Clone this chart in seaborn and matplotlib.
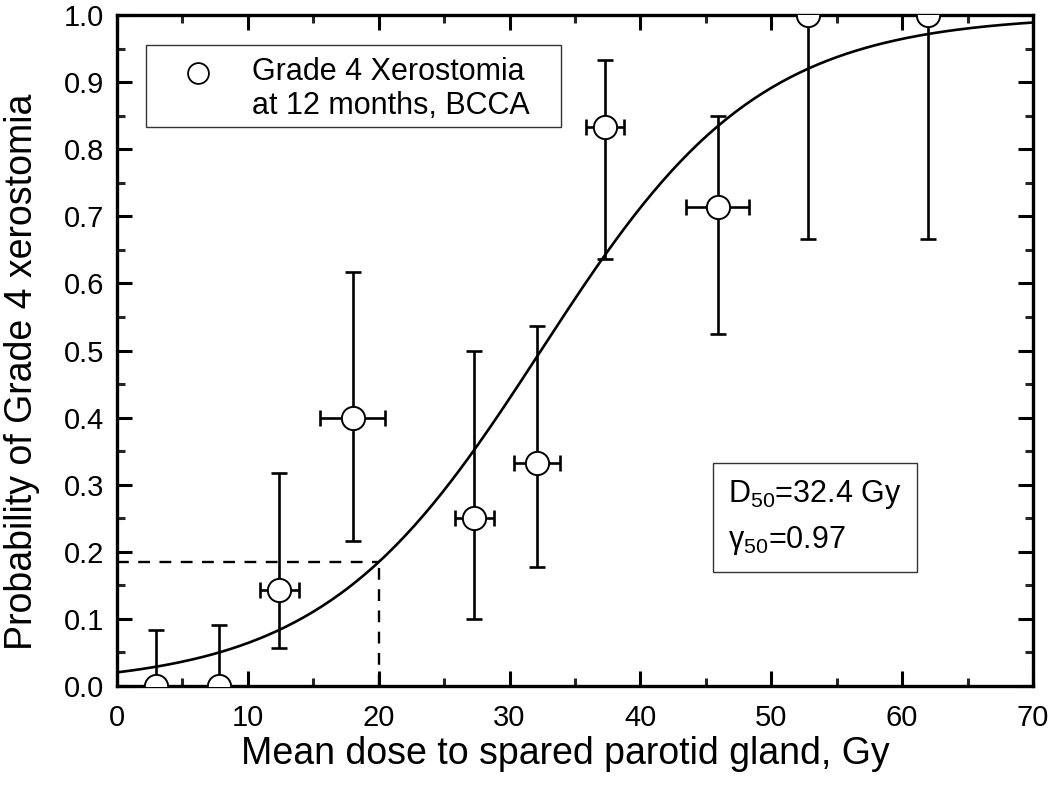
import numpy as np
import pandas as pd
import matplotlib
matplotlib.use("Agg")
import matplotlib.pyplot as plt
from matplotlib.patches import Rectangle
from matplotlib.ticker import MultipleLocator, FormatStrFormatter
import seaborn as sns

dose = [3.0, 7.8, 12.4, 18.0, 27.3, 32.1, 37.3, 45.9, 52.8, 62.0]
dose_err = [0.0, 0.0, 1.5, 2.5, 1.5, 1.75, 1.45, 2.4, 0.0, 0.0]
prob = [0.0, 0.0, 0.143, 0.40, 0.25, 0.333, 0.833, 0.714, 1.0, 1.0]
prob_lo = [0.0, 0.0, 0.057, 0.216, 0.10, 0.178, 0.637, 0.525, 0.667, 0.667]
prob_hi = [0.083, 0.091, 0.318, 0.617, 0.50, 0.537, 0.933, 0.85, 1.0, 1.0]

# fitted logistic model (parameters printed on the chart)
D50 = 32.4
gamma50 = 0.97
ref_dose = 20.0

df = pd.DataFrame({"dose": dose, "prob": prob})
fit = pd.DataFrame({"dose": np.linspace(0, 70, 300)})
fit["prob"] = 1.0 / (1.0 + np.exp(4 * gamma50 * (1 - fit["dose"] / D50)))
ref_prob = 1.0 / (1.0 + np.exp(4 * gamma50 * (1 - ref_dose / D50)))

sns.set_theme(style="ticks")
plt.rcParams["font.family"] = ["Liberation Sans", "DejaVu Sans"]
plt.rcParams["mathtext.fontset"] = "custom"
plt.rcParams["mathtext.rm"] = "Liberation Sans"
plt.rcParams["text.color"] = "black"
plt.rcParams["axes.labelcolor"] = "black"

fig = plt.figure(figsize=(10.5, 7.98), dpi=100)
ax = fig.add_axes([0.1114, 0.1404, 0.8724, 0.8406])

sns.lineplot(data=fit, x="dose", y="prob", color="black", lw=1.9, ax=ax, zorder=2)

# dashed guide at 20 Gy
ax.plot([0, ref_dose], [ref_prob, ref_prob], ls=(0, (5, 4)), color="black", lw=1.7, zorder=1)
ax.plot([ref_dose, ref_dose], [0, ref_prob], ls=(0, (5, 4)), color="black", lw=1.7, zorder=1)

yerr = [np.array(prob) - np.array(prob_lo), np.array(prob_hi) - np.array(prob)]
ax.errorbar(dose, prob, xerr=dose_err, yerr=yerr, fmt="none", ecolor="black",
            elinewidth=1.9, capsize=5.5, capthick=1.9, zorder=3)
sns.scatterplot(data=df, x="dose", y="prob", ax=ax, s=280, color="white",
                edgecolor="black", linewidth=1.4, zorder=4, legend=False)

ax.set_xlim(0, 70)
ax.set_ylim(0, 1.0)
ax.xaxis.set_major_locator(MultipleLocator(10))
ax.xaxis.set_minor_locator(MultipleLocator(5))
ax.yaxis.set_major_locator(MultipleLocator(0.1))
ax.yaxis.set_minor_locator(MultipleLocator(0.05))
ax.yaxis.set_major_formatter(FormatStrFormatter("%.1f"))
ax.tick_params(which="major", direction="in", length=11, width=2.2,
               top=True, right=True, labelsize=21, colors="black")
ax.tick_params(axis="x", which="major", pad=13)
ax.tick_params(axis="y", which="major", pad=9)
ax.tick_params(which="minor", direction="in", length=6, width=2.2,
               top=True, right=True)
for sp in ax.spines.values():
    sp.set_visible(True)
    sp.set_linewidth(2.4)
    sp.set_color("black")

ax.set_xlabel("Mean dose to spared parotid gland, Gy", fontsize=27)
ax.set_ylabel("Probability of Grade 4 xerostomia", fontsize=27)
ax.xaxis.set_label_coords(0.489, -0.074, transform=ax.transAxes)
ax.yaxis.set_label_coords(-0.084, 0.468, transform=ax.transAxes)

# legend box: marker sits beside the first line of a two-line label
ax.add_patch(Rectangle((0.0317, 0.833), 0.453, 0.122, transform=ax.transAxes,
                       fill=False, ec="#333333", lw=1.0, zorder=5, clip_on=False))
ax.plot([0.0884], [0.9136], transform=ax.transAxes, ls="none", marker="o", markersize=15,
        markerfacecolor="white", markeredgecolor="black", markeredgewidth=1.3, zorder=5)
ax.text(0.1474, 0.8897, "Grade 4 Xerostomia\nat 12 months, BCCA", transform=ax.transAxes,
        fontsize=22, ha="left", va="center", linespacing=1.15, zorder=5)

ax.text(0.762, 0.251, "D$_{50}$=32.4 Gy\nγ$_{50}$=0.97", transform=ax.transAxes,
        fontsize=22, va="center", ha="center", multialignment="left", linespacing=1.55,
        bbox=dict(boxstyle="square,pad=0.5", fc="white", ec="#333333", lw=1.0))

fig.savefig("out.png", dpi=100)
